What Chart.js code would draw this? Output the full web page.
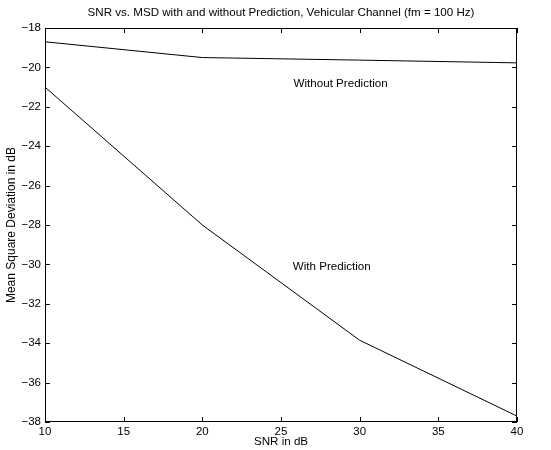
<!DOCTYPE html>
<html>
<head>
<meta charset="utf-8">
<script src="https://cdn.jsdelivr.net/npm/chart.js@4/dist/chart.umd.min.js"></script>
<style>
html,body{margin:0;padding:0;background:#fff;}
#wrap{width:551px;height:450px;}
</style>
</head>
<body>
<div id="wrap"><canvas id="c" width="551" height="450"></canvas></div>
<script>
const snr = [10, 20, 30, 40];
const msdWithout = [-18.7, -19.5, -19.63, -19.77];
const msdWith = [-21.0, -28.0, -33.85, -37.7];
const xTicks = [10, 15, 20, 25, 30, 35, 40];
const yTicks = [-38, -36, -34, -32, -30, -28, -26, -24, -22, -20, -18];
const titleText = 'SNR vs. MSD with and without Prediction, Vehicular Channel (fm = 100 Hz)';
const xLabel = 'SNR in dB';
const yLabel = 'Mean Square Deviation in dB';
const noteTexts = ['Without Prediction', 'With Prediction'];
const noteX = [25.8, 25.75];
const noteY = [-20.85, -30.1];

const FONT = '"Liberation Sans", Arial, Helvetica, sans-serif';
const fmt = v => String(v).replace('-', '\u2212');

const boxPlugin = {
  id: 'box',
  afterDraw(chart) {
    const ctx = chart.ctx, a = chart.chartArea;
    const xs = chart.scales.x, ys = chart.scales.y;
    ctx.save();
    ctx.strokeStyle = '#000';
    ctx.lineWidth = 1;
    ctx.strokeRect(a.left + 0.5, a.top + 0.5, a.right - a.left - 1, a.bottom - a.top - 1);
    const tl = 5;
    ctx.beginPath();
    xTicks.forEach(v => {
      const px = Math.round(xs.getPixelForValue(v)) + 0.5;
      ctx.moveTo(px, a.bottom); ctx.lineTo(px, a.bottom - tl);
      ctx.moveTo(px, a.top); ctx.lineTo(px, a.top + tl);
    });
    yTicks.forEach(v => {
      const py = Math.round(ys.getPixelForValue(v)) + 0.5;
      ctx.moveTo(a.left, py); ctx.lineTo(a.left + tl, py);
      ctx.moveTo(a.right, py); ctx.lineTo(a.right - tl, py);
    });
    ctx.stroke();
    ctx.fillStyle = '#000';
    ctx.font = '11.6px ' + FONT;
    ctx.textAlign = 'center';
    ctx.textBaseline = 'middle';
    ctx.fillText(titleText, (a.left + a.right) / 2, 13);
    ctx.fillText(xLabel, (a.left + a.right) / 2, 442);
    ctx.save();
    ctx.translate(12, (a.top + a.bottom) / 2);
    ctx.rotate(-Math.PI / 2);
    ctx.font = '12px ' + FONT;
    ctx.fillText(yLabel, 0, 0);
    ctx.restore();
    ctx.textAlign = 'left';
    noteTexts.forEach((t, i) => {
      ctx.fillText(t, xs.getPixelForValue(noteX[i]), ys.getPixelForValue(noteY[i]));
    });
    ctx.restore();
  }
};

new Chart(document.getElementById('c'), {
  type: 'line',
  data: {
    datasets: [
      { label: 'Without Prediction', data: snr.map((x, i) => ({x, y: msdWithout[i]})),
        borderColor: '#000', borderWidth: 1, pointRadius: 0, tension: 0, fill: false },
      { label: 'With Prediction', data: snr.map((x, i) => ({x, y: msdWith[i]})),
        borderColor: '#000', borderWidth: 1, pointRadius: 0, tension: 0, fill: false }
    ]
  },
  options: {
    responsive: false,
    animation: false,
    layout: { padding: { left: 0, top: 28, right: 34, bottom: 0 } },
    plugins: { legend: { display: false }, title: { display: false }, tooltip: { enabled: false } },
    scales: {
      x: {
        type: 'linear', min: 10, max: 40,
        afterBuildTicks: s => { s.ticks = xTicks.map(v => ({value: v})); },
        afterFit: s => { s.height = 28; },
        grid: { display: false, drawTicks: false },
        border: { display: false },
        ticks: { color: '#000', font: { family: FONT, size: 11.5 }, padding: 3, maxRotation: 0, autoSkip: false, callback: v => fmt(v) }
      },
      y: {
        type: 'linear', min: -38, max: -18,
        afterBuildTicks: s => { s.ticks = yTicks.map(v => ({value: v})); },
        afterFit: s => { s.width = 45; },
        grid: { display: false, drawTicks: false },
        border: { display: false },
        ticks: { color: '#000', font: { family: FONT, size: 11.5 }, padding: 4, autoSkip: false, callback: v => fmt(v) }
      }
    }
  },
  plugins: [boxPlugin]
});
</script>
</body>
</html>
